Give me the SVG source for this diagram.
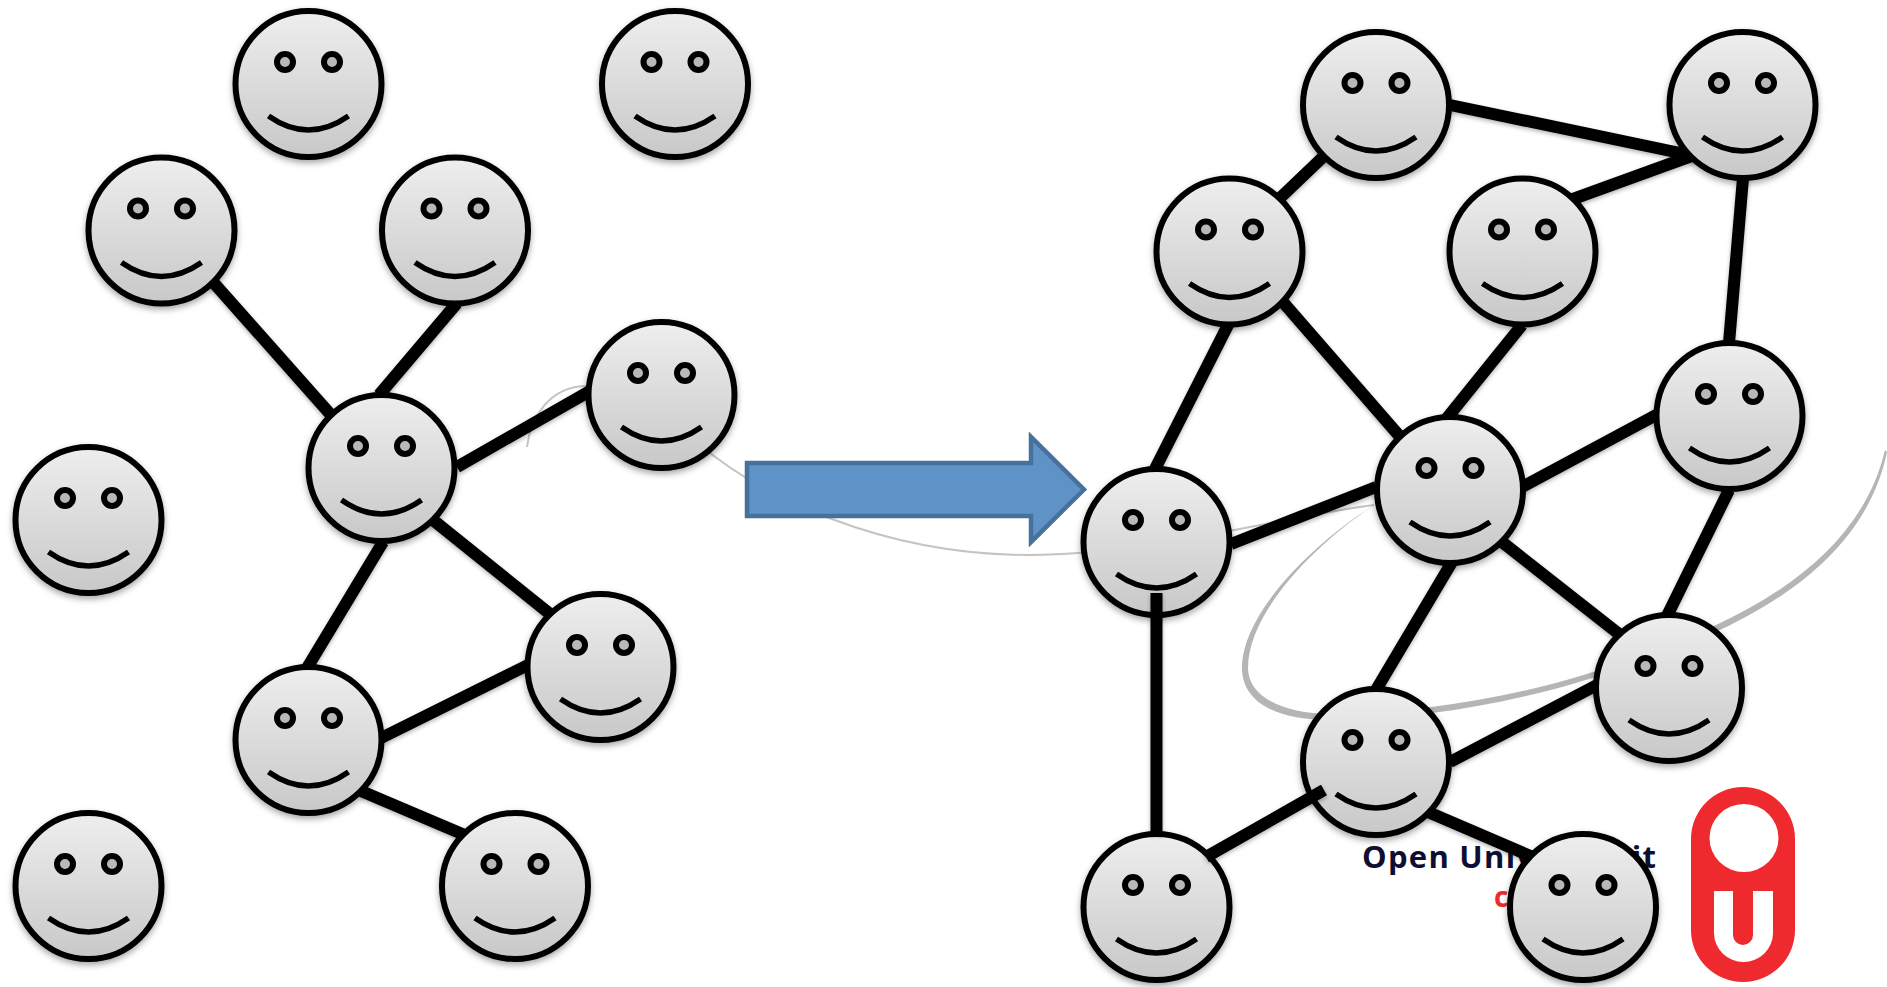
<svg xmlns="http://www.w3.org/2000/svg" xmlns:xlink="http://www.w3.org/1999/xlink" width="1887" height="987" viewBox="0 0 1887 987">
<style>
.edge{stroke:#000;stroke-width:12;fill:none;filter:url(#ls)}
.face{fill:url(#g);stroke:#000;stroke-width:6;filter:url(#s)}
.eye{fill:#b8b8b8;stroke:#000;stroke-width:6}
.smile{fill:none;stroke:#000;stroke-width:5.5}
.curve{fill:none;stroke:#c4c4c4;stroke-width:2}
.brand{font-family:"Open Sans",sans-serif;font-weight:700;font-size:31px;fill:#0e0e33}
</style>
<defs>
<linearGradient id="g" x1="0" y1="0" x2="0" y2="1"><stop offset="0" stop-color="#eeeeee"/><stop offset="1" stop-color="#c8c8c8"/></linearGradient>
<filter id="s" x="-20%" y="-20%" width="140%" height="140%"><feDropShadow dx="0" dy="3" stdDeviation="3" flood-color="#000" flood-opacity="0.35"/></filter>
<filter id="ls" filterUnits="userSpaceOnUse" x="0" y="0" width="1887" height="987"><feDropShadow dx="0" dy="2" stdDeviation="2" flood-color="#000" flood-opacity="0.3"/></filter>
<g id="smiley">
<circle class="face" r="73"/>
<circle class="eye" cx="-23.5" cy="-22" r="8"/>
<circle class="eye" cx="23.5" cy="-22" r="8"/>
<path class="smile" d="M-40,32 Q0,60 40,32"/>
</g>
</defs>
<rect width="1887" height="987" fill="#fff"/>
<g id="logo">
<text class="brand" x="1362" y="868" textLength="294" lengthAdjust="spacing">Open Universiteit</text>
<text x="1494" y="907" font-family="Open Sans, sans-serif" font-weight="700" font-size="28" fill="#ee2a2e">c</text>
<rect x="1691" y="787" width="104" height="195" rx="52" fill="#ee2a2e"/>
<ellipse cx="1744" cy="838" rx="34.5" ry="34" fill="#fff"/>
<path fill="#fff" d="M1714,891H1733V935A10,10 0 0 0 1753,935V891H1773V933A29.5,29 0 0 1 1714,933Z"/>
</g>
<g id="curves">
<path class="curve" stroke-width="1.5" d="M527,447C530,420 548,386 587,386"/>
<path class="curve" d="M700,445C760,495 880,555 1029,555C1150,555 1290,515 1374,505"/>
<path fill="#b5b5b5" d="M1376,504C1320,540 1248,610 1248,668C1248,695 1280,714 1332,714C1440,713 1560,688 1640,655C1750,618 1860,558 1885,450L1887,452C1864,563 1752,625 1640,661C1560,693 1440,720 1332,720C1272,720 1242,700 1242,668C1242,610 1320,538 1376,504Z"/>
</g>
<g id="connectors">
<path class="edge" d="M213,282L331,415M457,303L379,395M457,467L590,391M433,520L550,614M383,542L307,668M381,738L530,664M361,791L467,836"/>
<path class="edge" d="M1279,199L1324,156M1450,105L1685,154M1573,199L1697,154M1743,178L1729,343M1229,323L1155,469M1282,301L1402,439M1522,325L1447,418M1522,487L1658,414M1231,544L1376,487M1452,562L1376,690M1502,542L1619,634M1729,490L1667,616M1450,762L1597,685M1428,812L1535,858"/>
</g>
<g id="n1"><use href="#smiley" x="308.5" y="84"/></g>
<g id="n2"><use href="#smiley" x="675" y="84"/></g>
<g id="n3"><use href="#smiley" x="161.5" y="230.5"/></g>
<g id="n4"><use href="#smiley" x="455" y="230.5"/></g>
<g id="n5"><use href="#smiley" x="661.5" y="395"/></g>
<g id="n6"><use href="#smiley" x="381.5" y="468"/></g>
<g id="n7"><use href="#smiley" x="88.5" y="520"/></g>
<g id="n8"><use href="#smiley" x="600.5" y="667"/></g>
<g id="n9"><use href="#smiley" x="308.5" y="740"/></g>
<g id="n10"><use href="#smiley" x="88.5" y="886"/></g>
<g id="n11"><use href="#smiley" x="515" y="886"/></g>
<g id="n12"><use href="#smiley" x="1376" y="105"/></g>
<g id="n13"><use href="#smiley" x="1742.5" y="105"/></g>
<g id="n14"><use href="#smiley" x="1229.5" y="251.5"/></g>
<g id="n15"><use href="#smiley" x="1522.5" y="251.5"/></g>
<g id="n16"><use href="#smiley" x="1729.5" y="416"/></g>
<g id="n17"><use href="#smiley" x="1450" y="490"/></g>
<g id="n18"><use href="#smiley" x="1156.5" y="542"/></g>
<g id="n19"><use href="#smiley" x="1669" y="688"/></g>
<g id="n20"><use href="#smiley" x="1376" y="762"/></g>
<g id="n21"><use href="#smiley" x="1156.5" y="907"/></g>
<g id="n22"><use href="#smiley" x="1583" y="907"/></g>
<g id="connectors-over">
<path class="edge" d="M1156.5,593V834M1206,857L1324,790"/>
</g>
<path id="arrow" fill="#5f93c8" stroke="#47719d" stroke-width="4.5" d="M747,463H1031V437L1084,489.5L1031,542V516H747Z"/>
</svg>
